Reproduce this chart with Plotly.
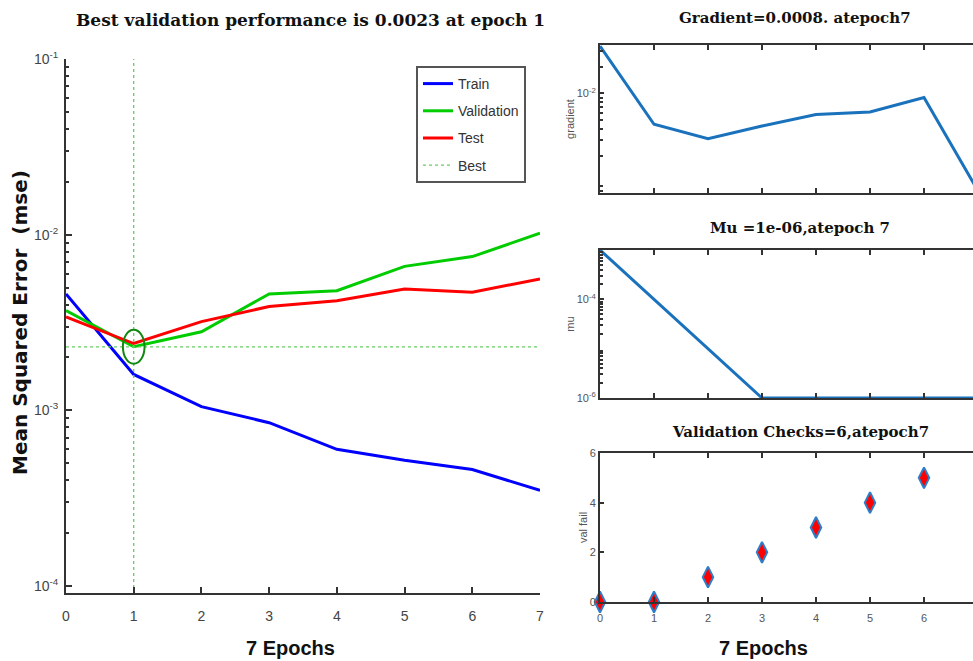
import numpy as np
import plotly.graph_objects as go

epochs = [0, 1, 2, 3, 4, 5, 6, 7]
train = [0.0046, 0.0016, 0.00105, 0.00085, 0.0006, 0.00052, 0.00046, 0.00035]
validation = [0.0037, 0.0023, 0.0028, 0.0046, 0.0048, 0.0066, 0.0075, 0.0102]
test = [0.0034, 0.0024, 0.0032, 0.0039, 0.0042, 0.0049, 0.0047, 0.0056]
best_epoch = 1
best_perf = 0.0023

gradient = [0.034, 0.0045, 0.0031, 0.0043, 0.0058, 0.0062, 0.009, 0.0008]
mu = [1e-3, 1e-4, 1e-5, 1e-6, 1e-6, 1e-6, 1e-6, 1e-6]
val_fail = [0, 0, 1, 2, 3, 4, 5, 6]

W, H = 973, 661
def px(x): return x / W
def py(y): return 1 - y / H

NARROW = "Liberation Sans Narrow, Arial Narrow, Liberation Sans"
TICKFONT = dict(family=NARROW, size=14, color="#444")
SMALLTICK = dict(family=NARROW, size=11, color="#555")
AXC = "#333"
BEST_C = "#66CC66"

def minor_vals(lo, hi):
    return [k * 10.0 ** e for e in range(lo, hi) for k in range(2, 10)]

fig = go.Figure()

# main performance plot
fig.add_trace(go.Scatter(x=epochs, y=train, mode="lines", name="Train", legendgroup="a",
                         line=dict(color="#0000FF", width=3), xaxis="x", yaxis="y"))
fig.add_trace(go.Scatter(x=epochs, y=validation, mode="lines", name="Validation", legendgroup="b",
                         line=dict(color="#00CC00", width=3), xaxis="x", yaxis="y"))
fig.add_trace(go.Scatter(x=epochs, y=test, mode="lines", name="Test", legendgroup="c",
                         line=dict(color="#FF0000", width=3), xaxis="x", yaxis="y"))
fig.add_trace(go.Scatter(x=[epochs[0], epochs[-1]], y=[best_perf, best_perf], mode="lines", name="Best",
                         legendgroup="d",
                         line=dict(color=BEST_C, width=1.3, dash="dot"), xaxis="x", yaxis="y"))
fig.add_trace(go.Scatter(x=[best_epoch, best_epoch], y=[1e-4 / 1.2, 0.1], mode="lines", showlegend=False,
                         legendgroup="d",
                         line=dict(color=BEST_C, width=1.3, dash="dot"), xaxis="x", yaxis="y"))

# gradient
fig.add_trace(go.Scatter(x=epochs, y=gradient, mode="lines", showlegend=False,
                         line=dict(color="#1A72BD", width=3), xaxis="x2", yaxis="y2"))
# mu
fig.add_trace(go.Scatter(x=epochs, y=mu, mode="lines", showlegend=False,
                         line=dict(color="#1A72BD", width=3), xaxis="x3", yaxis="y3", cliponaxis=False))
# val fail
fig.add_trace(go.Scatter(x=epochs, y=val_fail, mode="markers", showlegend=False, cliponaxis=False,
                         marker=dict(symbol="diamond-tall", size=15, color="#FF0000",
                                     line=dict(color="#2F7FC8", width=2)),
                         xaxis="x4", yaxis="y4"))

# ellipse around the best point (half-width in epochs, half-height as a factor on the log axis)
ell_dx = 0.16
ell_fy = 10 ** 0.097
fig.add_shape(type="circle", xref="x", yref="y", layer="above",
              x0=best_epoch - ell_dx, x1=best_epoch + ell_dx,
              y0=best_perf / ell_fy, y1=best_perf * ell_fy,
              line=dict(color="#118811", width=2))

left_dom = [px(66), px(540)]
right_dom = [px(600), 1.0]
xr_right = [0, 7 * 373 / 378]

base = dict(showgrid=False, zeroline=False, ticks="inside", linecolor=AXC, linewidth=2,
            tickcolor=AXC, tickwidth=2, automargin=False, showline=True)

fig.update_layout(
    width=W, height=H, margin=dict(l=0, r=0, t=0, b=0, autoexpand=False),
    plot_bgcolor="white", paper_bgcolor="white", showlegend=True,
    xaxis=dict(domain=left_dom, range=[0, 7], tickvals=epochs, anchor="y", ticklen=6,
               tickfont=TICKFONT, ticklabelstandoff=9, **base),
    yaxis=dict(type="log", domain=[py(593), py(59)], range=[-4.04, -1], anchor="x", ticklen=6,
               tickvals=[1e-4, 1e-3, 1e-2, 1e-1],
               ticktext=["10<sup>-4</sup>", "10<sup>-3</sup>", "10<sup>-2</sup>", "10<sup>-1</sup>"],
               tickfont=TICKFONT, ticklabelstandoff=3,
               minor=dict(ticks="inside", ticklen=3, tickcolor=AXC, tickvals=minor_vals(-4, -1)),
               **base),
    xaxis2=dict(domain=right_dom, range=xr_right, tickvals=epochs, showticklabels=False,
                anchor="y2", mirror="ticks", ticklen=5, **base),
    yaxis2=dict(type="log", domain=[py(193), py(45)], range=[-3.12, -1.455], anchor="x2",
                mirror=True, ticklen=4, tickvals=[1e-2], ticktext=["10<sup>-2</sup>"],
                tickfont=SMALLTICK,
                minor=dict(ticks="inside", ticklen=3, tickcolor=AXC, tickvals=minor_vals(-4, -1)),
                title=dict(text="gradient", font=dict(family="Liberation Sans", size=11, color="#555"), standoff=0),
                **base),
    xaxis3=dict(domain=right_dom, range=xr_right, tickvals=epochs, showticklabels=False,
                anchor="y3", mirror="ticks", ticklen=5, **base),
    yaxis3=dict(type="log", domain=[py(398), py(250)], range=[-6, -3], anchor="x3",
                mirror=True, ticklen=4, tickvals=[1e-6, 1e-4], ticktext=["10<sup>-6</sup>", "10<sup>-4</sup>"],
                tickfont=SMALLTICK,
                minor=dict(ticks="inside", ticklen=3, tickcolor=AXC, tickvals=minor_vals(-6, -3)),
                title=dict(text="mu", font=dict(family="Liberation Sans", size=11, color="#555"), standoff=0),
                **base),
    xaxis4=dict(domain=right_dom, range=xr_right, tickvals=[0, 1, 2, 3, 4, 5, 6], anchor="y4",
                mirror="ticks", ticklen=5, tickfont=SMALLTICK, ticklabelstandoff=5, **base),
    yaxis4=dict(domain=[py(602), py(453)], range=[0, 6], anchor="x4", tickvals=[0, 2, 4, 6],
                mirror=True, ticklen=4, tickfont=SMALLTICK,
                title=dict(text="val fail", font=dict(family="Liberation Sans", size=11, color="#555"), standoff=0),
                **base),
    legend=dict(x=px(416), y=py(66), xanchor="left", yanchor="top",
                bgcolor="white", bordercolor="#555", borderwidth=2,
                font=dict(family=NARROW, size=14, color="#333"),
                tracegroupgap=6, itemwidth=30),
)

TITLE_FONT = dict(family="DejaVu Serif", size=17, color="#111")
SUB_FONT = dict(family="DejaVu Serif", size=15, color="#111")
annots = [
    dict(text="<b>Best validation performance is 0.0023 at epoch 1</b>", x=px(310), y=py(20), font=TITLE_FONT),
    dict(text="<b>Gradient=0.0008. atepoch7</b>", x=px(795), y=py(18), font=SUB_FONT),
    dict(text="<b>Mu =1e-06,atepoch 7</b>", x=px(800), y=py(228), font=SUB_FONT),
    dict(text="<b>Validation Checks=6,atepoch7</b>", x=px(800), y=py(432), font=SUB_FONT),
    dict(text="<b>7 Epochs</b>", x=px(290), y=py(648), font=dict(family="Liberation Sans", size=20, color="#111")),
    dict(text="<b>7 Epochs</b>", x=px(763), y=py(648), font=dict(family="Liberation Sans", size=20, color="#111")),
    dict(text="<b>Mean Squared Error  (mse)</b>", x=px(20), y=py(323), textangle=-90,
         font=dict(family="DejaVu Sans", size=20, color="#111")),
]
for a in annots:
    fig.add_annotation(xref="paper", yref="paper", showarrow=False, xanchor="center", yanchor="middle", **a)

fig.write_html("out.html", config={"displayModeBar": False},
               post_script="document.body.style.margin='0px';document.body.style.overflow='hidden';")
